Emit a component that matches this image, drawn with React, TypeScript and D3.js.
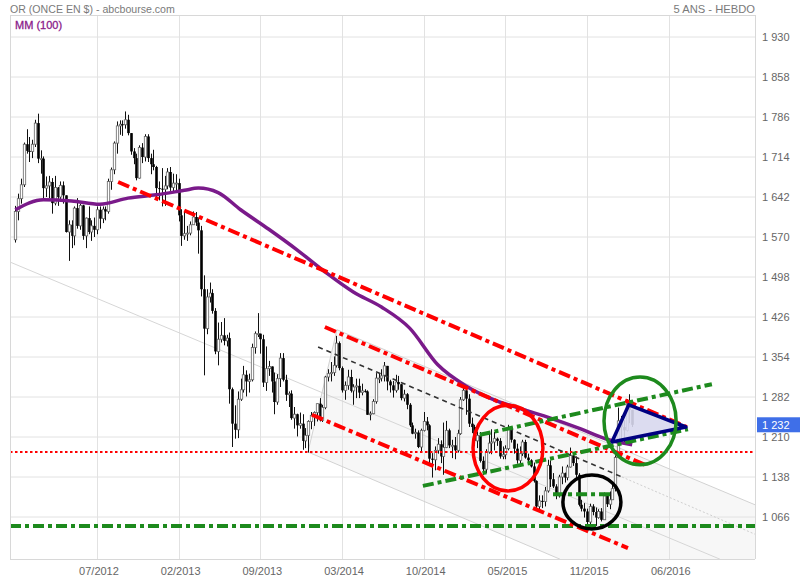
import React from 'react';
import * as d3 from 'd3';

// ---------- DATA ----------
// Weekly gold candles, first week of Jan 2012 -> mid March 2016 (open = previous close)
const firstOpen = 1565;
const closes = [
  // 2012
  1616,1639,1664,1737,1725,1724,1737,1775,1711,1711,1658,1662,1669,1631,1659,1642,1663,1645,1579,1592,1572,1622,1590,1627,1572,1604,
  1579,1590,1583,1619,1603,1620,1616,1670,1691,1739,1770,1773,1772,1781,1757,1724,1712,1676,1731,1714,1751,1712,1701,1696,1658,1657,
  // 2013
  1656,1662,1687,1659,1667,1667,1609,1572,1576,1577,1592,1606,1596,1582,1476,1405,1462,1469,1437,1364,1386,1393,1383,1388,1296,1234,
  1223,1278,1295,1322,1310,1313,1371,1396,1396,1386,1308,1333,1337,1310,1273,1315,1352,1313,1286,1288,1244,1251,1231,1234,1203,1213,
  // 2014
  1238,1249,1254,1270,1240,1263,1318,1324,1326,1339,1379,1334,1294,1303,1318,1293,1300,1302,1290,1293,1292,1250,1252,1274,1316,1316,
  1320,1338,1310,1303,1294,1309,1305,1280,1287,1268,1231,1216,1218,1192,1222,1238,1231,1171,1169,1186,1197,1175,1191,1222,1195,1195,
  // 2015
  1186,1216,1277,1294,1279,1234,1228,1203,1213,1167,1152,1183,1199,1201,1207,1203,1175,1178,1189,1225,1205,1189,1168,1180,1201,1173,
  1168,1157,1131,1085,1095,1094,1113,1159,1134,1121,1104,1138,1145,1137,1156,1177,1163,1142,1088,1081,1076,1057,1085,1075,1065,1076,1061,
  // 2016
  1104,1089,1097,1117,1173,1239,1228,1222,1270,1259,1232,
];
const highs = [
  1626,1648,1675,1740,1764,1750,1745,1781,1792,1726,1715,1679,1680,1676,1680,1660,1670,1670,1645,1600,1600,1625,1640,1630,1628,1605,
  1625,1600,1605,1625,1625,1625,1625,1675,1695,1742,1778,1780,1780,1796,1790,1755,1730,1720,1735,1739,1755,1755,1720,1727,1698,1670,
  1694,1680,1694,1696,1684,1683,1675,1620,1617,1590,1598,1616,1615,1605,1590,1501,1476,1488,1476,1442,1416,1417,1424,1394,1398,1299,
  1267,1292,1315,1338,1330,1324,1378,1400,1433,1395,1394,1373,1347,1336,1326,1323,1361,1361,1322,1292,1294,1264,1252,1254,1251,1226,
  1240,1255,1256,1270,1280,1268,1320,1332,1345,1355,1392,1382,1337,1310,1331,1331,1305,1315,1315,1306,1296,1294,1256,1278,1325,1325,
  1332,1345,1338,1313,1311,1322,1320,1303,1295,1289,1271,1236,1225,1222,1225,1255,1246,1233,1181,1193,1208,1204,1236,1239,1225,1205,
  1210,1223,1282,1307,1290,1287,1245,1232,1220,1219,1175,1188,1219,1224,1219,1209,1208,1193,1195,1232,1227,1206,1198,1193,1205,1205,
  1180,1170,1164,1132,1105,1105,1120,1169,1168,1145,1125,1142,1157,1146,1160,1191,1180,1175,1145,1097,1091,1081,1090,1089,1083,1080,1082,
  1110,1105,1112,1127,1177,1263,1248,1240,1278,1287,1258,
];
const lows = [
  1560,1600,1630,1660,1720,1705,1712,1732,1703,1684,1640,1642,1640,1612,1627,1626,1638,1630,1578,1527,1550,1555,1585,1583,1565,1550,
  1575,1563,1570,1575,1585,1595,1600,1612,1655,1683,1720,1754,1752,1765,1753,1718,1701,1672,1675,1703,1706,1705,1683,1690,1637,1636,
  1625,1626,1656,1653,1650,1654,1598,1554,1565,1563,1573,1594,1590,1540,1463,1321,1395,1452,1432,1359,1339,1380,1375,1373,1270,1192,
  1207,1208,1275,1290,1283,1290,1310,1360,1390,1360,1300,1293,1320,1290,1251,1268,1300,1310,1275,1264,1241,1225,1211,1225,1187,1190,
  1182,1224,1230,1238,1238,1237,1260,1310,1310,1320,1335,1330,1290,1277,1295,1290,1268,1280,1280,1285,1290,1250,1240,1251,1270,1307,
  1310,1310,1294,1290,1281,1290,1295,1276,1274,1260,1228,1215,1207,1190,1183,1220,1222,1161,1137,1150,1180,1163,1142,1190,1190,1172,
  1170,1182,1214,1275,1250,1228,1217,1194,1190,1164,1142,1145,1180,1179,1186,1194,1171,1170,1170,1186,1200,1180,1162,1162,1176,1171,
  1160,1155,1128,1077,1080,1082,1085,1110,1120,1118,1098,1101,1125,1128,1132,1155,1158,1136,1085,1076,1065,1053,1047,1069,1050,1063,1058,
  1062,1084,1080,1097,1112,1172,1198,1200,1220,1235,1228,
];

// MM (100) — 100-week moving average read at these week indices
const mmWeeks = [0, 10, 20, 30, 40, 50, 60, 65, 72, 80, 90, 100, 110, 120, 130, 140, 150, 160, 170, 180, 190, 200, 210, 219];
const mmValues = [1619, 1637, 1635, 1629, 1640, 1646, 1654, 1658, 1650, 1619, 1584, 1547, 1507, 1471, 1444, 1406, 1340, 1302, 1277, 1260, 1244, 1226, 1206, 1196];

const yTicks = [1066, 1138, 1210, 1282, 1354, 1426, 1498, 1570, 1642, 1714, 1786, 1858, 1930];
const xTickWeeks = [29, 58, 87, 116, 145, 174, 203, 232];
const xTickLabels = ['07/2012', '02/2013', '09/2013', '03/2014', '10/2014', '05/2015', '11/2015', '06/2016'];
const lastValue = 1232;

// Drawn annotations, in [week, price] coordinates
const redChannel = [
  [36.5, 1669, 238.4, 1228],
  [109.9, 1408, 223.5, 1160],
  [105.3, 1250, 217.5, 1010],
];
const blackMidLine = [107.5, 1372, 215.4, 1138];
const greenTrend = [
  [164.9, 1214, 247.3, 1305],
  [144.7, 1122, 238.8, 1224],
];
const greenSupport = 1050;
const greenShort = [190.9, 212.2, 1107];
const redDotted = 1183;
// ellipses: [centerWeek, centerPrice, radiusWeeks, radiusPrice]
const redEllipse = [174.9, 1190, 12.4, 77];
const blackEllipse = [204.7, 1093, 10.3, 48.6];
const greenEllipse = [221.8, 1239, 12.8, 79];
const triangle = [[211.8, 1201], [217.8, 1268], [238.1, 1228]];
// grey regression channel tool
const greyUpper = [114.2, 1403, 262.6, 1088];
const greyLower = [103.9, 1183, 193.4, 990];
const greyLong = [-1.9, 1525, 250.2, 990];
const greyMidExt = [215.4, 1138, 262.6, 1035];

// ---------- CHART ----------
const SVG_W = 800;
const SVG_H = 580;
const PL = 10;
const PR = 755;
const PT = 15;
const PB = 559;
const xs = d3.scaleLinear().domain([0, 232]).range([15.3, 668.8]);
const ys = d3.scaleLinear().domain([1066, 1930]).range([517, 37]);
const fmt = (v: number) => d3.format(',')(v).replace(/,/g, ' ');
const FONT = 'Liberation Sans, Arial, sans-serif';

export default function App() {
  const mmLine = d3.line<number>()
    .x((_d, i) => xs(mmWeeks[i]))
    .y((d) => ys(d))
    .curve(d3.curveMonotoneX)(mmValues) as string;

  const seg = (s: number[]) => ({ x1: xs(s[0]), y1: ys(s[1]), x2: xs(s[2]), y2: ys(s[3]) });
  const ell = (e: number[]) => ({ cx: xs(e[0]), cy: ys(e[1]), rx: xs(e[0] + e[2]) - xs(e[0]), ry: ys(e[1]) - ys(e[1] + e[3]) });

  const gu = seg(greyUpper);
  const gl = seg(greyLower);
  const fillPts = [[gu.x1, gu.y1], [gu.x2, gu.y2], [PR, PB], [gl.x2, gl.y2], [gl.x1, gl.y1]];

  const redDash = '12,4,4,4';
  const greenDash = '11,4,4,4';

  return (
    <svg width={SVG_W} height={SVG_H} style={{ position: 'absolute', left: 0, top: 0, background: '#fff' }} fontFamily={FONT}>
      <defs>
        <clipPath id="plotclip"><rect x={PL} y={PT} width={PR - PL} height={PB - PT} /></clipPath>
      </defs>
      <text x={10} y={13} fontSize={10.6} fill="#7a7a7a">OR (ONCE EN $) - abcbourse.com</text>
      <text x={PR} y={13} fontSize={11.2} fill="#7a7a7a" textAnchor="end">5 ANS - HEBDO</text>

      <g clipPath="url(#plotclip)">
        <polygon points={fillPts.map((p) => p.join(',')).join(' ')} fill="#f7f7f7" />
        {yTicks.map((t) => (
          <line key={'gy' + t} x1={PL} x2={PR} y1={ys(t)} y2={ys(t)} stroke="#e2e2e2" strokeWidth={1} />
        ))}
        {xTickWeeks.map((t) => (
          <line key={'gx' + t} x1={Math.round(xs(t)) + 0.5} x2={Math.round(xs(t)) + 0.5} y1={PT} y2={PB} stroke="#e2e2e2" strokeWidth={1} />
        ))}
        <line {...gu} stroke="#d2d2d2" strokeWidth={1} />
        <line {...gl} stroke="#d2d2d2" strokeWidth={1} />
        <line x1={gu.x1} y1={gu.y1} x2={gl.x1} y2={gl.y1} stroke="#d2d2d2" strokeWidth={1} />
        <line {...seg(greyLong)} stroke="#d6d6d6" strokeWidth={1} />
        <line {...seg(greyMidExt)} stroke="#cfcfcf" strokeWidth={1} strokeDasharray="2,2" />

        {closes.map((c, i) => {
          const o = i === 0 ? firstOpen : closes[i - 1];
          const h = Math.max(highs[i], o, c);
          const l = Math.min(lows[i], o, c);
          const cx = Math.round(xs(i)) + 0.5;
          const up = c >= o;
          const yt = ys(Math.max(o, c));
          const yb = ys(Math.min(o, c));
          return (
            <g key={'c' + i}>
              <line x1={cx} x2={cx} y1={ys(h)} y2={ys(l)} stroke="#111" strokeWidth={1} />
              {up ? (
                <rect x={cx - 1.2} y={yt} width={2.4} height={Math.max(1, yb - yt)} fill="#fff" stroke="#666" strokeWidth={0.8} />
              ) : (
                <rect x={cx - 1.3} y={yt} width={2.6} height={Math.max(1, yb - yt)} fill="#000" />
              )}
            </g>
          );
        })}

        <path d={mmLine} fill="none" stroke="#7a1a8a" strokeWidth={3.5} strokeLinejoin="round" />

        <line x1={PL} x2={PR} y1={ys(redDotted)} y2={ys(redDotted)} stroke="#ff0000" strokeWidth={2} strokeDasharray="2.5,2.5" />
        <line x1={PL} x2={PR} y1={ys(greenSupport)} y2={ys(greenSupport)} stroke="#1d8a1d" strokeWidth={4} strokeDasharray={greenDash} />
        <line x1={xs(greenShort[0])} x2={xs(greenShort[1])} y1={ys(greenShort[2])} y2={ys(greenShort[2])} stroke="#1d8a1d" strokeWidth={4} strokeDasharray={greenDash} />

        <line {...seg(blackMidLine)} stroke="#333" strokeWidth={1.6} strokeDasharray="5,4" />
        {redChannel.map((s, i) => (
          <line key={'r' + i} {...seg(s)} stroke="#ff0000" strokeWidth={4} strokeDasharray={redDash} />
        ))}
        {greenTrend.map((s, i) => (
          <line key={'g' + i} {...seg(s)} stroke="#1d8a1d" strokeWidth={4} strokeDasharray={greenDash} />
        ))}

        <polygon points={triangle.map((p) => `${xs(p[0])},${ys(p[1])}`).join(' ')} fill="#d8d8ee" fillOpacity={0.9} stroke="#000080" strokeWidth={3.5} strokeLinejoin="round" />

        <ellipse {...ell(redEllipse)} fill="none" stroke="#ff0000" strokeWidth={3.5} />
        <ellipse {...ell(blackEllipse)} fill="none" stroke="#000" strokeWidth={3.5} />
        <ellipse {...ell(greenEllipse)} fill="none" stroke="#1d8a1d" strokeWidth={3.5} />
      </g>

      <line x1={PL + 0.5} x2={PL + 0.5} y1={PT} y2={PB} stroke="#d8d8d8" />
      <line x1={PR + 0.5} x2={PR + 0.5} y1={PT} y2={PB} stroke="#d8d8d8" />
      <line x1={PL} x2={PR} y1={PT + 0.5} y2={PT + 0.5} stroke="#d8d8d8" />
      <line x1={PL} x2={PR} y1={PB + 0.5} y2={PB + 0.5} stroke="#d8d8d8" />

      <text x={15} y={29} fontSize={11} fill="#8a1a8a" stroke="#8a1a8a" strokeWidth={0.3}>MM (100)</text>

      {yTicks.map((t) => (
        <text key={'yl' + t} x={762} y={ys(t) + 4} fontSize={11} fill="#666">{fmt(t)}</text>
      ))}
      <rect x={757} y={ys(lastValue) - 7.5} width={43} height={15} fill="#3f6fe8" />
      <text x={762} y={ys(lastValue) + 4} fontSize={11} fill="#fff">{fmt(lastValue)}</text>

      {xTickWeeks.map((t, i) => (
        <text key={'xl' + t} x={xs(t) + 2} y={575} fontSize={11} fill="#666" textAnchor="middle">{xTickLabels[i]}</text>
      ))}
    </svg>
  );
}
